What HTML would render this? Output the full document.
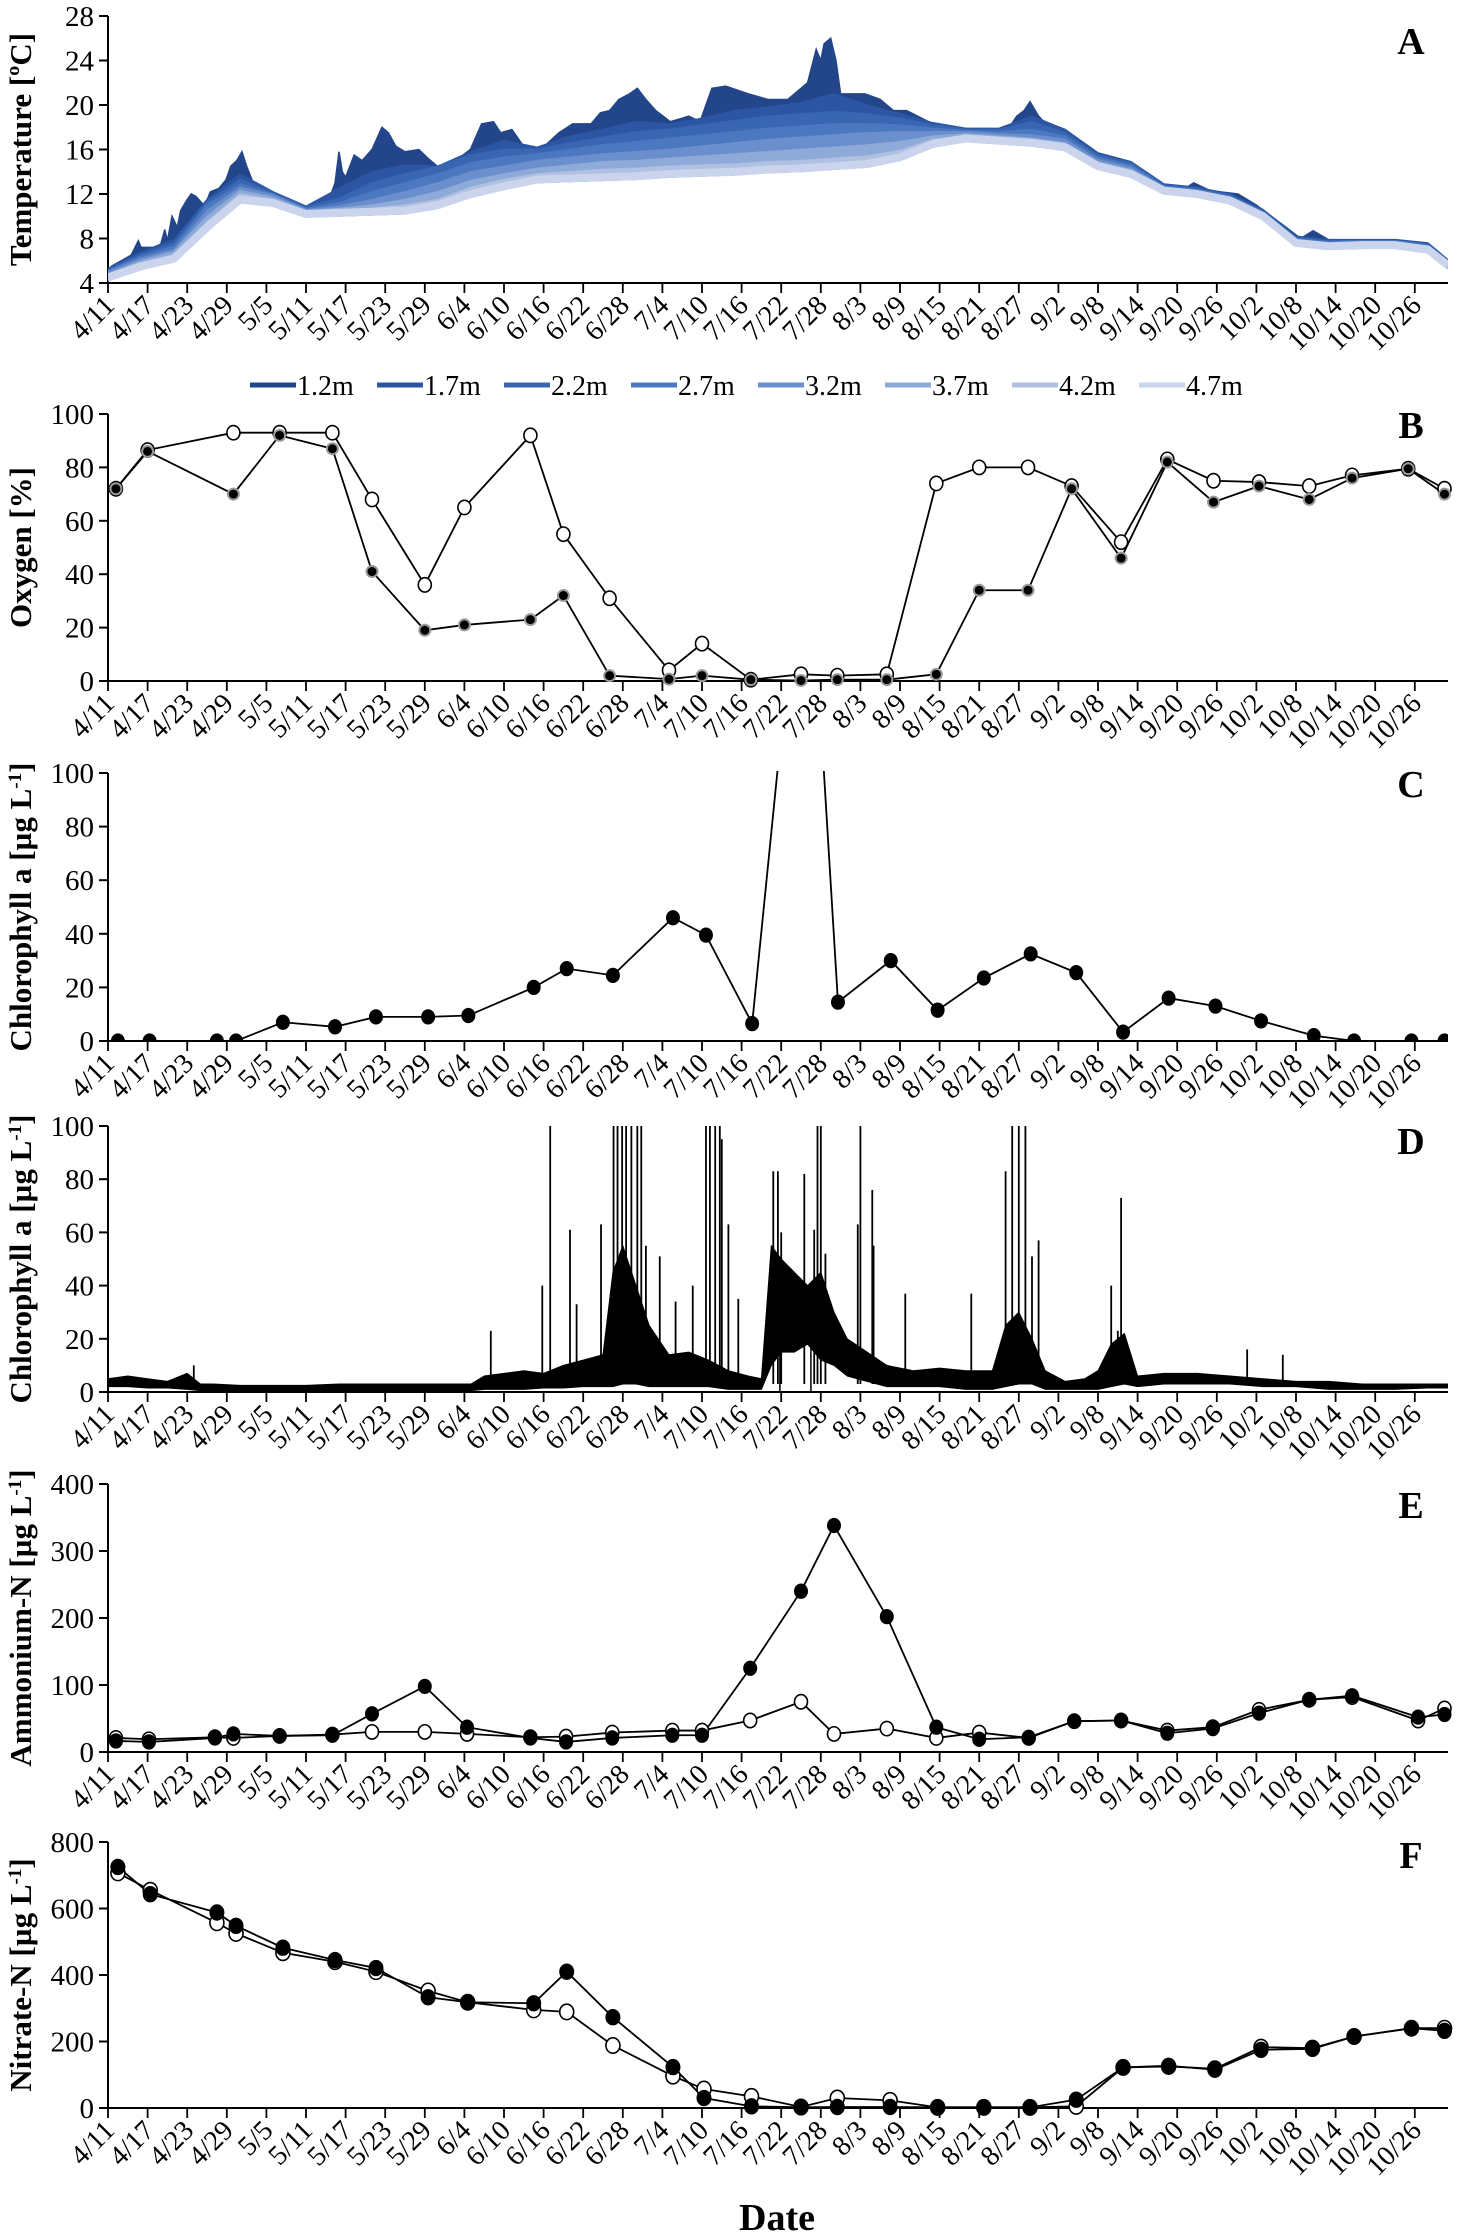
<!DOCTYPE html>
<html><head><meta charset="utf-8"><style>
html,body{margin:0;padding:0;background:#fff;}
svg{display:block;font-family:"Liberation Serif",serif;}
.tk{font-size:29px;fill:#000;}
.xt{font-size:28px;fill:#000;}
.ttl{font-size:31px;font-weight:bold;fill:#000;}
.let{font-size:38px;font-weight:bold;fill:#000;}
.lgt{font-size:28px;fill:#000;}
</style></head><body>
<svg id="chart" width="1460" height="2234" viewBox="0 0 1460 2234" xmlns="http://www.w3.org/2000/svg"></svg>
<script>
// ---------- shared axis data ----------
const dateLabels=["4/11","4/17","4/23","4/29","5/5","5/11","5/17","5/23","5/29","6/4","6/10","6/16","6/22","6/28","7/4","7/10","7/16","7/22","7/28","8/3","8/9","8/15","8/21","8/27","9/2","9/8","9/14","9/20","9/26","10/2","10/8","10/14","10/20","10/26"];
// ---------- Panel A: temperature ----------
const depthNames=["1.2m","1.7m","2.2m","2.7m","3.2m","3.7m","4.2m","4.7m"];
const t12Days=[0.5,2,3.5,4.6,5,6.9,8,8.6,9,9.7,10.5,11,12,12.6,13.3,14.2,14.7,15.5,16.8,17.9,18.6,19.5,20.3,21,22,23.1,26,27.7,30.2,33,33.8,34.4,35,35.5,36,37.3,38.5,40,41.5,42.5,43.6,45,47.1,48.5,49.9,52.7,54.9,56.6,58.4,59.5,61.2,63.3,64.8,66.5,68.3,70.4,73.2,74.6,76,77.4,79,80.2,81.5,83,85.2,88,89.7,91.5,93.6,97,100,103,105,106,107.3,108,108.5,109.5,110.3,111,114.7,117,119,121,125,127.9,133,134.5,136,137.7,138.8,139.7,141,142.6,146.2,148.5,151,154.4,155.8,160,162.4,164.5,167,171.2,174,178.5,180.7,182.6,185.2,191,197.7,200.6,202];
const t12Vals=[5.5,6,6.5,7.8,7.2,7.2,7.5,8.8,7.8,10,9,10.5,11.5,12,11.8,11.2,11,12.2,12.5,13.3,14.5,15,15.8,14.5,13,12.3,11.7,11.2,10.8,11,12,13,15.8,14,13.5,15.5,15,16,18,17.5,16.3,15.8,16,15.2,14.5,15,16,18.3,18.5,17.5,17.8,16,15.7,16.5,17.5,18.3,18.3,19.3,19.5,20.5,21,21.5,20.5,19.5,18.5,19,18.5,21.5,21.7,21,20.5,20.5,21.5,22,25,24,25.5,26,24,21,21,20.5,19.5,19.5,18.3,17.5,17.5,17,17.5,19,19.5,20.3,19,18,16.7,15.5,14.8,14.2,13.5,12.5,12.2,13,12.3,12,11,9,8,8.7,7.8,7.8,7.7,7,6];
const tDays=[0,5,10,15,20,25,30,35,40,45,50,55,60,65,70,75,80,85,90,95,100,105,110,115,120,125,130,135,140,145,150,155,160,165,170,175,180,185,190,195,200,203];
const t17=[5.3,6.8,7.9,11.5,13.8,12.2,10.9,12.5,14.0,14.6,14.5,15.8,16.8,16.2,17.2,17.8,18.5,18.3,18.8,19.5,19.8,20.2,21.0,20.0,19.2,18.4,17.9,17.9,19.0,17.8,15.7,14.9,12.9,12.6,12.0,10.6,8.2,7.9,7.9,7.9,7.6,6.1];
const t22=[5.2,6.6,7.6,11.3,13.3,12.1,10.8,11.6,13.0,13.8,14.5,15.5,16.0,16.0,16.6,17.1,17.6,17.8,18.2,18.6,19.0,19.2,19.4,19.2,18.8,18.2,17.8,17.8,18.5,17.5,15.5,14.8,12.8,12.5,11.9,10.5,8.1,7.8,7.8,7.8,7.5,6.0];
const t27=[5.1,6.4,7.3,11.0,12.9,12.0,10.7,11.2,12.2,13.0,13.8,14.8,15.3,15.6,16.0,16.4,16.7,17.0,17.3,17.6,17.9,18.1,18.3,18.3,18.2,17.9,17.7,17.6,17.8,17.2,15.3,14.6,12.7,12.4,11.8,10.4,8.0,7.7,7.8,7.8,7.4,6.0];
const t32=[5.0,6.2,7.0,10.5,12.6,11.9,10.6,10.9,11.5,12.2,13.0,14.0,14.5,15.0,15.3,15.6,15.8,16.0,16.3,16.6,16.9,17.1,17.3,17.5,17.6,17.6,17.6,17.4,17.3,16.9,15.1,14.4,12.6,12.3,11.7,10.3,7.9,7.6,7.7,7.7,7.3,5.9];
const t37=[4.8,6.0,6.8,10.0,12.3,11.7,10.5,10.7,11.0,11.5,12.2,13.2,13.8,14.3,14.6,14.9,15.0,15.2,15.4,15.6,15.8,16.0,16.2,16.4,16.7,17.2,17.4,17.2,17.0,16.6,14.9,14.2,12.5,12.2,11.6,10.2,7.8,7.5,7.6,7.6,7.2,5.8];
const t42=[4.7,5.8,6.5,9.5,12.0,11.5,10.4,10.5,10.7,11.0,11.5,12.6,13.3,13.8,14.0,14.2,14.3,14.5,14.6,14.7,14.9,15.0,15.2,15.4,15.9,16.9,17.2,17.0,16.8,16.4,14.7,14.0,12.4,12.1,11.5,10.1,7.7,7.4,7.5,7.5,7.1,5.7];
const t47=[4.5,5.5,6.2,9.0,11.5,11.2,10.2,10.3,10.4,10.5,11.0,12.0,12.7,13.3,13.4,13.5,13.6,13.8,13.9,14.0,14.2,14.3,14.5,14.7,15.3,16.5,17.0,16.8,16.6,16.2,14.5,13.8,12.3,12.0,11.4,10.0,7.6,7.3,7.4,7.4,7.0,5.6];
const tempTicks=[4,8,12,16,20,24,28];
// ---------- Panel B: oxygen ----------
const oxDays=[1.2,6,19,26,34,40,48,54,64,69,76,85,90,97.4,105,110.5,118,125.5,132,139.4,146,153.5,160.5,167.5,174.4,182,188.5,197,202.5];
const oxOpen=[72,86.5,93,93,93,68,36,65,92,55,31,4,14,0.5,2.5,2,2.5,74,80,80,73,52,83,75,74.5,73,77,79.5,72];
const oxFilled=[72,86,70,92,87,41,19,21,23,32,2,0.7,2,0.5,0.2,0.5,0.5,2.5,34,34,72,46,82,67,73,68,76,79.5,70];
const pctTicks=[0,20,40,60,80,100];
// ---------- Panel C: chlorophyll samples ----------
const chlDays=[1.5,6.3,16.5,19.4,26.5,34.4,40.6,48.5,54.6,64.5,69.5,76.5,85.6,90.6,97.6,105.8,110.6,118.6,125.7,132.7,139.8,146.7,153.8,160.7,167.8,174.7,182.7,188.8,197.5,202.5];
const chlVals=[0,0,0,0,7,5.3,9,9,9.5,20,27,24.5,46,39.5,6.5,208,14.5,30,11.5,23.5,32.5,25.5,3.3,16,13,7.5,2,0,0,0];
// ---------- Panel D: chlorophyll sensor ----------
const dDays=[0,3,6,9,12,14,16,20,25,30,35,40,45,50,55,57,60,63,66,69,72,75,76.5,78,80,82,85,88,91,94,97,99,100.5,102,104,106,108,110,112,115,118,122,126,130,134,136,138,140,142,145,148,150,152,154,156,160,165,170,175,180,185,190,195,200,203];
const dLo=[2,2,1.5,1.5,1,0.5,0,0,0,0,0,0,0,0,0.5,1,1,1,1.5,1.5,2,2,2,3,3,2,2,2,2,1,1,1,10,15,15,18,12,10,6,4,2,2,2,1,1,2,3,3,1,1,1,1,2,3,2,3,3,3,2,2,1,1,1,1.5,1.5];
const dHi=[5,6,5,4,7,3,3,2.5,2.5,2.5,3,3,3,3,3,6,7,8,7,10,12,14,45,55,40,25,14,15,12,8,6,5,55,50,45,40,45,30,20,15,10,8,9,8,8,25,30,20,8,4,5,8,18,22,6,7,7,6,5,4,4,3,3,3,3];
const spikeDays=[13,58,65.8,67,70,71,74.7,76.6,77.2,77.9,78.5,79.3,80.2,80.8,81.5,83.6,86,88.6,90.6,91.2,92,92.7,93,94,95.5,100.8,101.5,102,105.5,107,107.5,108,108.7,113.6,114,115.8,116,120.8,130.8,136,137,138,139,140,141,152,153,153.5,172.6,178];
const spikeVals=[10,23,40,100,61,33,63,100,100,100,100,100,100,100,55,51,34,40,100,100,100,100,95,63,35,83,83,60,82,61,100,100,52,63,100,76,55,37,37,83,100,100,100,51,57,40,23,73,16,14];
const dropDays=[101.8,106.5];
// ---------- Panel E: ammonium ----------
const nhDays=[1.2,6.2,16.2,19,26,34,40,48,54.4,64,69.4,76.4,85.5,90,97.3,105,110,118,125.5,132,139.5,146.4,153.5,160.5,167.4,174.4,182,188.5,198.5,202.5];
const nhFilled=[16.5,15,21,27,24,25,57,98,37,21,15,21,25,25,125,240,338,202,37,19,22,46,47,28,35,58,78,84,52,56];
const nhOpen=[21,19,22,21,24,26,30,30,27,22,23,29,32,32,47,75,27,35,21,29,21,46,47,32,37,63,78,82,47,65];
const nhTicks=[0,100,200,300,400];
// ---------- Panel F: nitrate ----------
const noDays=[1.5,6.4,16.5,19.4,26.5,34.4,40.6,48.5,54.5,64.5,69.5,76.5,85.6,90.3,97.5,105,110.5,118.5,125.7,132.7,139.7,146.7,153.8,160.7,167.7,174.7,182.5,188.8,197.5,202.5];
const noFilled=[725,643,588,548,482,445,421,333,318,315,410,273,123,30,5,2,3,3,2,2,2,25,122,127,115,175,178,215,240,232];
const noOpen=[707,655,557,525,467,440,410,352,318,295,289,188,96,57,35,3,30,23,2,2,2,5,122,125,118,183,180,215,240,240];
const noTicks=[0,200,400,600,800];

// ---------- drawing ----------
const NS="http://www.w3.org/2000/svg";
const svg=document.getElementById('chart');
const X0=108, PXD=6.6, XEND=1448;
function xs(d){return X0+d*PXD;}
function mk(tag,attrs,parent){const e=document.createElementNS(NS,tag);for(const k in attrs)e.setAttribute(k,attrs[k]);(parent||svg).appendChild(e);return e;}
function yScale(p){return v=>p.y0-(v-p.vmin)/(p.vmax-p.vmin)*(p.y0-p.yt);}

const panels=[
 {id:'a',yt:16,y0:283,vmin:4,vmax:28,ticks:tempTicks,title:'Temperature [ºC]',letter:'A',ly:54,sup:false},
 {id:'b',yt:414,y0:681,vmin:0,vmax:100,ticks:pctTicks,title:'Oxygen [%]',letter:'B',ly:438,sup:false},
 {id:'c',yt:773,y0:1041,vmin:0,vmax:100,ticks:pctTicks,title:'Chlorophyll a [µg L',letter:'C',ly:797,sup:true},
 {id:'d',yt:1126,y0:1392,vmin:0,vmax:100,ticks:pctTicks,title:'Chlorophyll a [µg L',letter:'D',ly:1154,sup:true},
 {id:'e',yt:1484,y0:1752,vmin:0,vmax:400,ticks:nhTicks,title:'Ammonium-N [µg L',letter:'E',ly:1518,sup:true},
 {id:'f',yt:1842,y0:2108,vmin:0,vmax:800,ticks:noTicks,title:'Nitrate-N [µg L',letter:'F',ly:1868,sup:true}
];

function drawAxes(p){
  const g=mk('g',{});
  
  
  const y=yScale(p);
  mk('line',{x1:X0,y1:p.yt,x2:X0,y2:p.y0,stroke:'#000','stroke-width':2},g);
  mk('line',{x1:X0-9,y1:p.y0,x2:XEND,y2:p.y0,stroke:'#000','stroke-width':2},g);
  p.ticks.forEach(t=>{
    mk('line',{x1:X0-9,y1:y(t),x2:X0,y2:y(t),stroke:'#000','stroke-width':2},g);
    const tx=mk('text',{x:X0-14,y:y(t)+10,'text-anchor':'end',class:'tk'},g);
    
    
    tx.textContent=t;
  });
  dateLabels.forEach((lab,i)=>{
    const x=xs(i*6);
    mk('line',{x1:x,y1:p.y0,x2:x,y2:p.y0+10,stroke:'#000','stroke-width':1.8},g);
    const tx=mk('text',{x:0,y:0,'text-anchor':'end',class:'xt',transform:`translate(${x+8},${p.y0+24}) rotate(-45)`},g);
    
    
    tx.textContent=lab;
  });
  const cy=(p.yt+p.y0)/2;
  const tt=mk('text',{x:0,y:0,'text-anchor':'middle',class:'ttl',transform:`translate(31,${cy}) rotate(-90)`},g);
  
  
  tt.textContent=p.title;
  if(p.sup){
    const s=mk('tspan',{'baseline-shift':'super','font-size':'19'},tt);s.textContent='-1';
    const s2=mk('tspan',{},tt);s2.textContent=']';
  }
  const lt=mk('text',{x:1411,y:p.ly,'text-anchor':'middle',class:'let'},g);
  
  
  lt.textContent=p.letter;
  const cp=mk('clipPath',{id:'clip-'+p.id});
  mk('rect',{x:X0,y:p.yt-2,width:XEND-X0,height:p.y0-p.yt+2},cp);
}
panels.forEach(drawAxes);

function line(days,vals,y,clip,name){
  const pts=days.map((d,i)=>xs(d)+','+y(vals[i])).join(' ');
  const pl=mk('polyline',{points:pts,fill:'none',stroke:'#000','stroke-width':1.8,'clip-path':clip?'url(#'+clip+')':''});
  
  
}
function markers(days,vals,y,kind,r,clip,name){
  const g=mk('g',{'clip-path':clip?'url(#'+clip+')':''});
  
  
  days.forEach((d,i)=>{
    const v=vals[i];
    let c;
    if(kind==='open') c=mk('ellipse',{cx:xs(d),cy:y(v),rx:r,ry:r*1.1,fill:'#fff',stroke:'#000','stroke-width':1.6},g);
    else if(kind==='grey') c=mk('circle',{cx:xs(d),cy:y(v),r:r,fill:'#000',stroke:'#999','stroke-width':2},g);
    else c=mk('ellipse',{cx:xs(d),cy:y(v),rx:r,ry:r*1.1,fill:'#000',stroke:'#000','stroke-width':1},g);
    
    
  });
}

// ---- Panel A ----
(function(){
  const p=panels[0], y=yScale(p);
  const colors=['#23468a','#2c56a3','#3866b3','#4b78c0','#6b8fcc','#8eaad8','#afc0e2','#cad4ec'];
  const bottomPts=tDays.map((d,i)=>xs(d)+','+(y(t47[i])+3)).reverse().join(' ');
  const series=[[t12Days,t12Vals],[tDays,t17],[tDays,t22],[tDays,t27],[tDays,t32],[tDays,t37],[tDays,t42]];
  const g=mk('g',{'clip-path':'url(#clip-a)'});
  
  
  series.forEach((s,k)=>{
    const top=s[0].map((d,i)=>xs(d)+','+y(s[1][i])).join(' ');
    const pg=mk('polygon',{points:top+' '+bottomPts,fill:colors[k],stroke:colors[k],'stroke-width':1.5},g);
    
    
  });
  const l=mk('polyline',{points:tDays.map((d,i)=>xs(d)+','+y(t47[i])).join(' '),fill:'none',stroke:colors[7],'stroke-width':8,'stroke-linejoin':'round'},g);
  
  
  const lg=mk('g',{});
  
  
  depthNames.forEach((n,k)=>{
    const x=250+k*127;
    const e=mk('g',{},lg);
    
    
    mk('line',{x1:x,y1:385,x2:x+46,y2:385,stroke:colors[k],'stroke-width':5},e);
    const t=mk('text',{x:x+47,y:395,class:'lgt'},e);t.textContent=n;
  });
})();

// ---- Panel B ----
(function(){
  const y=yScale(panels[1]);
  line(oxDays,oxOpen,y,'clip-b','oxygen-open-line');
  line(oxDays,oxFilled,y,'clip-b','oxygen-filled-line');
  markers(oxDays,oxOpen,y,'open',6.5,null,'oxygen-open-points');
  markers(oxDays,oxFilled,y,'grey',5.5,null,'oxygen-filled-points');
})();
// ---- Panel C ----
(function(){
  const y=yScale(panels[2]);
  line(chlDays,chlVals,y,'clip-c','chlorophyll-line');
  markers(chlDays,chlVals,y,'filled',6.5,'clip-c','chlorophyll-points');
})();
// ---- Panel D ----
(function(){
  const y=yScale(panels[3]);
  const g=mk('g',{'clip-path':'url(#clip-d)'});
  
  
  const top=dDays.map((d,i)=>xs(d)+','+y(dHi[i])).join(' ');
  const bot=dDays.map((d,i)=>xs(d)+','+y(dLo[i])).reverse().join(' ');
  const band=mk('polygon',{points:top+' '+bot,fill:'#000',stroke:'#000','stroke-width':1,'stroke-linejoin':'round'},g);
  
  
  spikeDays.forEach((d,i)=>{
    const s=mk('line',{x1:xs(d),y1:y(3),x2:xs(d),y2:y(spikeVals[i]),stroke:'#000','stroke-width':1.8},g);
    
    
  });
  dropDays.forEach(d=>{
    const s=mk('line',{x1:xs(d),y1:y(20),x2:xs(d),y2:y(0),stroke:'#000','stroke-width':1.5},g);
    
    
  });
})();
// ---- Panel E ----
(function(){
  const y=yScale(panels[4]);
  line(nhDays,nhOpen,y,'clip-e','ammonium-open-line');
  line(nhDays,nhFilled,y,'clip-e','ammonium-filled-line');
  markers(nhDays,nhOpen,y,'open',6.5,null,'ammonium-open-points');
  markers(nhDays,nhFilled,y,'filled',6.5,null,'ammonium-filled-points');
})();
// ---- Panel F ----
(function(){
  const y=yScale(panels[5]);
  line(noDays,noOpen,y,'clip-f','nitrate-open-line');
  line(noDays,noFilled,y,'clip-f','nitrate-filled-line');
  markers(noDays,noOpen,y,'open',7,null,'nitrate-open-points');
  markers(noDays,noFilled,y,'filled',7,null,'nitrate-filled-points');
})();
const dt=mk('text',{x:777,y:2230,'text-anchor':'middle','font-size':'38','font-weight':'bold'});


dt.textContent='Date';
</script>
</body></html>
